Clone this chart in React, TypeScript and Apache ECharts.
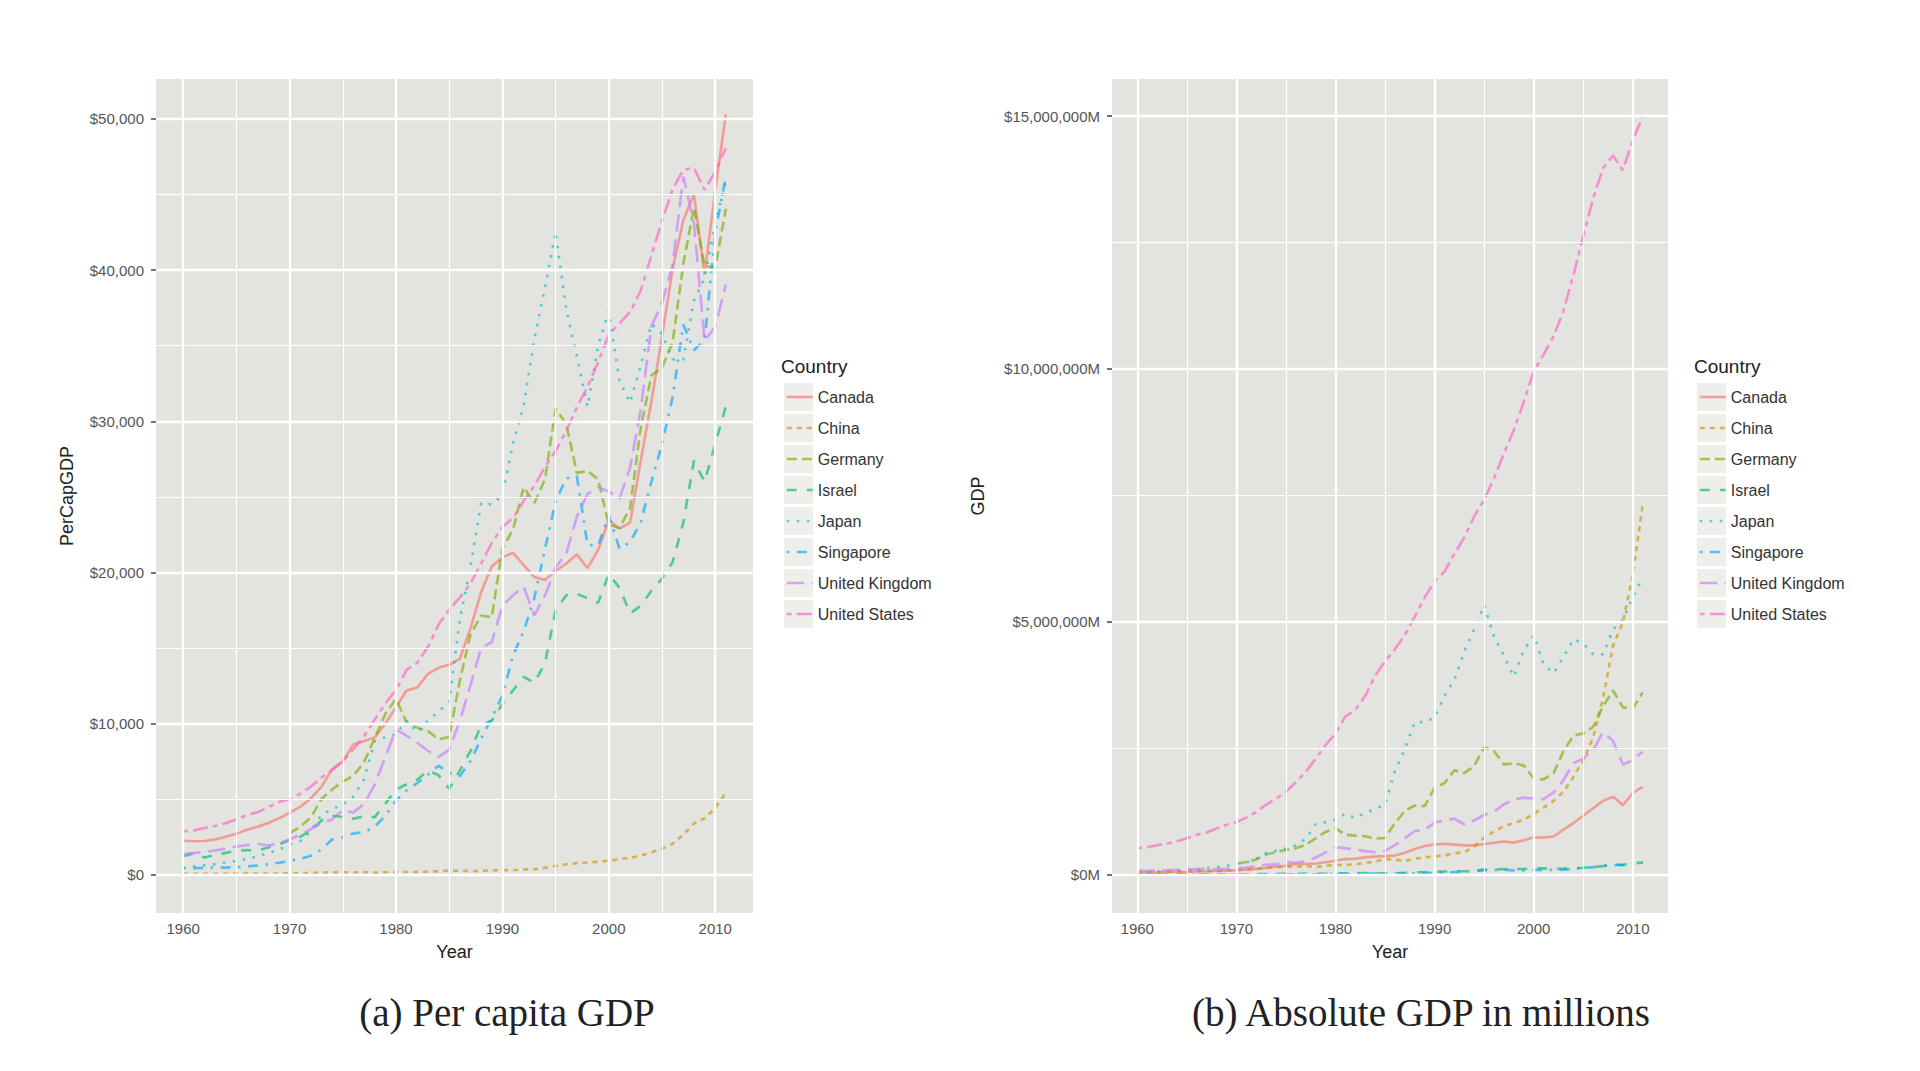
import { useEffect, useRef } from 'react'
import * as echarts from 'echarts'

const YEARS = Array.from({ length: 52 }, (_, i) => 1960 + i)

const COUNTRIES = ['Canada', 'China', 'Germany', 'Israel', 'Japan', 'Singapore', 'United Kingdom', 'United States']
const COLORS = ['#F8766D', '#CD9600', '#7CAE00', '#00BE67', '#00BFC4', '#00A9FF', '#C77CFF', '#FF61CC']
const DASHES: any[] = ['solid', [5, 5], [10, 5], [10, 10], [2.5, 7.5], [2.5, 7.5, 10, 7.5], [17.5, 7.5], [5, 5, 15, 5]]

// per capita GDP (US$), 1960 -> 2011
const PC_CANADA = [2260, 2230, 2250, 2350, 2520, 2720, 2990, 3190, 3440, 3740, 4100, 4500, 5070, 5830, 7000, 7500, 8650, 8850, 9100, 10000, 11100, 12200, 12400, 13300, 13700, 13900, 14300, 16300, 18700, 20400, 21000, 21300, 20500, 19700, 19500, 20100, 20600, 21200, 20300, 21500, 23500, 22900, 23300, 27400, 31300, 35600, 40100, 43300, 45000, 39700, 45300, 50300]
const PC_CHINA = [92, 76, 70, 74, 85, 98, 104, 97, 91, 100, 112, 118, 131, 157, 160, 178, 165, 185, 155, 183, 193, 197, 203, 225, 250, 294, 281, 251, 283, 310, 314, 330, 366, 377, 473, 610, 709, 782, 829, 873, 949, 1042, 1135, 1274, 1490, 1731, 2069, 2651, 3414, 3749, 4433, 5445]
const PC_GERMANY = [null, null, null, null, null, null, null, null, null, null, 2761, 3190, 3795, 5032, 5653, 6176, 6562, 7455, 9060, 10641, 11654, 10077, 9743, 9520, 8969, 9125, 12855, 15909, 17154, 17042, 21584, 22851, 25640, 24601, 26156, 30847, 29822, 26591, 26722, 26152, 23169, 22943, 24267, 29572, 33038, 33543, 35238, 40403, 44132, 40270, 40163, 44060]
const PC_ISRAEL = [1230, 1430, 1150, 1330, 1460, 1600, 1640, 1630, 1820, 2030, 2290, 2520, 2940, 3600, 3920, 3850, 3720, 3890, 3820, 4720, 5650, 6000, 6300, 6900, 6600, 5700, 6900, 8200, 9900, 10200, 11300, 12200, 13100, 12700, 14000, 17500, 18500, 18600, 18300, 18000, 19900, 19000, 17300, 17800, 18800, 19600, 20700, 23300, 27400, 26000, 28500, 31000]
const PC_JAPAN = [479, 564, 633, 718, 835, 919, 1058, 1228, 1450, 1669, 2004, 2234, 2917, 3974, 4354, 4659, 5198, 6335, 8822, 9104, 9308, 10212, 9429, 10214, 10787, 11466, 16882, 20355, 24592, 24505, 25124, 28541, 31013, 35451, 38815, 42522, 37423, 34304, 30970, 34999, 37292, 32716, 31236, 33691, 36442, 35781, 34102, 34095, 37972, 39473, 43118, 45903]
const PC_SINGAPORE = [428, 449, 472, 511, 485, 516, 566, 626, 708, 812, 925, 1071, 1264, 1685, 2341, 2490, 2746, 2846, 3194, 3901, 4929, 5596, 6078, 6633, 7228, 6750, 6542, 7539, 9004, 10395, 11862, 14505, 16136, 18302, 21553, 24702, 26233, 26376, 21824, 21796, 23793, 21577, 22017, 23320, 26000, 28500, 31600, 36400, 34700, 35400, 42500, 46200]
const PC_UK = [1381, 1452, 1525, 1613, 1748, 1874, 1979, 2059, 1951, 2100, 2347, 2649, 3030, 3426, 3666, 4299, 4138, 4681, 5977, 7804, 9630, 9208, 8748, 8215, 7808, 8292, 10175, 12545, 15016, 15402, 17805, 18493, 19063, 17171, 18475, 20322, 21264, 23694, 25198, 25647, 25362, 24874, 26926, 30785, 36267, 37813, 40366, 46195, 43146, 35332, 36238, 39038]
const PC_US = [2881, 2934, 3107, 3232, 3423, 3665, 3969, 4150, 4491, 4818, 5010, 5370, 5836, 6445, 6947, 7516, 8302, 9174, 10275, 11348, 12225, 13568, 14029, 15072, 16558, 17542, 18342, 19280, 20585, 21962, 23014, 23611, 24736, 25715, 27000, 28037, 29358, 30938, 32288, 33920, 35728, 36473, 37230, 38650, 40966, 43252, 45348, 46630, 46770, 45300, 46530, 48070]

// absolute GDP (US$ millions), 1960 -> 2011
const GDP_CANADA = [41093, 40768, 41978, 44657, 48883, 53910, 60417, 65268, 71464, 78699, 87896, 98520, 112584, 131321, 160409, 173834, 206575, 211612, 218633, 243072, 273854, 306215, 313507, 340548, 355373, 364756, 377438, 431318, 507354, 565056, 593930, 610328, 592388, 577171, 578139, 604031, 628546, 652823, 631813, 676082, 739451, 732708, 752531, 887752, 1018385, 1164177, 1310796, 1457873, 1542561, 1370838, 1614072, 1736869]
const GDP_CHINA = [59716, 50057, 47209, 50707, 59708, 70436, 76720, 72882, 70847, 79706, 91506, 98562, 112160, 136770, 142255, 161163, 151628, 172349, 148182, 176635, 189400, 194111, 203183, 228457, 257432, 306667, 297590, 270372, 309523, 343974, 356937, 379469, 422661, 440501, 559225, 728007, 856085, 952653, 1019459, 1083278, 1198475, 1324807, 1453827, 1640959, 1931644, 2256903, 2712951, 3494056, 4521827, 4990526, 5930502, 7318499]
const GDP_GERMANY = [null, null, null, null, null, null, null, null, null, null, 215838, 249985, 299802, 398374, 445303, 487981, 518963, 589920, 717097, 842841, 919612, 788000, 771000, 757000, 713000, 724000, 1019000, 1261000, 1366000, 1356000, 1714000, 1809000, 2062000, 2006000, 2148000, 2522000, 2440000, 2179000, 2202000, 2158000, 1900000, 1881000, 2007000, 2440000, 2745000, 2793000, 2919000, 3328000, 3640000, 3307000, 3286000, 3601000]
const GDP_ISRAEL = [2600, 3100, 2500, 3000, 3400, 4100, 4300, 4400, 5000, 5800, 6800, 7700, 9200, 11600, 13100, 13300, 13100, 14000, 14100, 17800, 21900, 23700, 25300, 28100, 27400, 24100, 29600, 35600, 43600, 45600, 52700, 59400, 66000, 65800, 74300, 97100, 105000, 108600, 109300, 110400, 125200, 122000, 113600, 119000, 128300, 135800, 146100, 167000, 200000, 193000, 217000, 241000]
const GDP_JAPAN = [44307, 53509, 60723, 69498, 81749, 90950, 105628, 123782, 146601, 172204, 209071, 236155, 312736, 424862, 471275, 512861, 576562, 709398, 996741, 1037453, 1086988, 1201466, 1116841, 1218107, 1294609, 1384533, 2051061, 2485237, 3015394, 3017052, 3103698, 3536800, 3852794, 4414963, 4850348, 5333926, 4706187, 4324278, 3914575, 4432599, 4731199, 4159860, 3980820, 4302939, 4655803, 4571867, 4356750, 4356347, 4849185, 5035142, 5495387, 5867154]
const GDP_SINGAPORE = [704, 765, 826, 917, 894, 975, 1096, 1237, 1425, 1659, 1920, 2265, 2730, 3690, 5221, 5633, 6325, 6660, 7616, 9512, 11897, 14175, 16085, 17783, 19768, 18558, 18466, 21074, 25736, 31189, 36144, 43004, 49153, 58141, 70764, 84291, 92541, 95851, 82433, 82716, 94305, 87997, 90603, 97002, 114188, 127418, 147798, 177599, 189413, 185245, 222699, 239700]
const GDP_UK = [72328, 76694, 80602, 85443, 93387, 100595, 107090, 111185, 104702, 112676, 124485, 140798, 161318, 192488, 206131, 241757, 232615, 263066, 335883, 438994, 542167, 518980, 493571, 464244, 443864, 472625, 581089, 717844, 862611, 886319, 1027650, 1070290, 1104000, 992957, 1070200, 1178360, 1242300, 1390250, 1487500, 1521400, 1504990, 1489030, 1624860, 1867800, 2203100, 2296800, 2462900, 2818300, 2644100, 2176000, 2261900, 2431300]
const GDP_US = [520531, 539052, 579750, 611672, 657625, 719125, 787797, 832555, 909989, 984630, 1038300, 1126800, 1237900, 1382300, 1499500, 1637700, 1824600, 2030100, 2293800, 2562200, 2788100, 3126800, 3253200, 3534600, 3930900, 4217500, 4460100, 4736400, 5100400, 5482100, 5800500, 5992100, 6342300, 6667400, 7085200, 7414700, 7838500, 8332400, 8793500, 9353500, 9951500, 10286200, 10642300, 11142200, 11853300, 12623000, 13377200, 13970000, 14220000, 13930000, 14526500, 14991300]

const PER_CAPITA = [PC_CANADA, PC_CHINA, PC_GERMANY, PC_ISRAEL, PC_JAPAN, PC_SINGAPORE, PC_UK, PC_US]
const ABSOLUTE = [GDP_CANADA, GDP_CHINA, GDP_GERMANY, GDP_ISRAEL, GDP_JAPAN, GDP_SINGAPORE, GDP_UK, GDP_US]

const X_MAJOR = [1960, 1970, 1980, 1990, 2000, 2010]
const X_MINOR = [1965, 1975, 1985, 1995, 2005]
const PC_MAJOR = [0, 10000, 20000, 30000, 40000, 50000]
const PC_MINOR = [5000, 15000, 25000, 35000, 45000]
const GDP_MAJOR = [0, 5000000, 10000000, 15000000]
const GDP_MINOR = [2500000, 7500000, 12500000]

const SANS = '"Liberation Sans", Arial, sans-serif'
const SERIF = '"Liberation Serif", "Times New Roman", serif'
const PANEL_BG = '#E3E3DF'
const KEY_BG = '#EEEEEB'
const LEGEND_TOP = 383
const KEY_STEP = 31
const LINE_W = 2.6

const money = (v: number) => '$' + v.toLocaleString('en-US')

function gridLines(idx: number, xMajor: number[], xMinor: number[], yMajor: number[], yMinor: number[]) {
  const item = (key: 'xAxis' | 'yAxis', v: number, w: number) => ({ [key]: v, lineStyle: { width: w } })
  return {
    type: 'line',
    xAxisIndex: idx,
    yAxisIndex: idx,
    data: [],
    silent: true,
    z: 1,
    markLine: {
      silent: true,
      symbol: ['none', 'none'],
      label: { show: false },
      emphasis: { disabled: true },
      lineStyle: { color: '#ffffff', type: 'solid' },
      data: [
        ...yMinor.map((v) => item('yAxis', v, 1.2)),
        ...xMinor.map((v) => item('xAxis', v, 1.2)),
        ...yMajor.map((v) => item('yAxis', v, 2.4)),
        ...xMajor.map((v) => item('xAxis', v, 2.4)),
      ],
    },
  }
}

function xAxisFor(idx: number) {
  return {
    type: 'value',
    gridIndex: idx,
    min: 1957.45,
    max: 2013.55,
    name: 'Year',
    nameLocation: 'middle',
    nameGap: 30,
    nameTextStyle: { fontFamily: SANS, fontSize: 18, color: '#222' },
    axisLine: { show: false },
    splitLine: { show: false },
    axisTick: { show: true, length: 5, customValues: X_MAJOR, lineStyle: { color: '#444', width: 1.5 } },
    axisLabel: { customValues: X_MAJOR, margin: 8, fontFamily: SANS, fontSize: 15, color: '#555', formatter: (v: number) => String(v) },
  }
}

function legendFor(left: number) {
  return {
    orient: 'vertical',
    left,
    top: LEGEND_TOP,
    padding: 0,
    itemWidth: 26,
    itemHeight: 28,
    itemGap: 3,
    selectedMode: false,
    data: COUNTRIES,
    // hide the round marker ECharts adds to line-series legend icons
    itemStyle: { color: 'rgba(0,0,0,0)', borderWidth: 0, opacity: 0 },
    lineStyle: { width: LINE_W },
    textStyle: { fontFamily: SANS, fontSize: 16, lineHeight: 28, color: '#333' },
  }
}

function keyBoxes(left: number) {
  return COUNTRIES.map((_, i) => ({
    type: 'rect',
    z: -1,
    shape: { x: left, y: LEGEND_TOP + i * KEY_STEP, width: 29, height: 28 },
    style: { fill: KEY_BG },
  }))
}

export default function App() {
  const ref = useRef<HTMLDivElement>(null)

  useEffect(() => {
    if (!ref.current) return
    const chart = echarts.init(ref.current, null, { renderer: 'svg' })

    const dataSeries = (idx: number, table: (number | null)[][]) =>
      COUNTRIES.map((name, i) => ({
        name,
        type: 'line',
        xAxisIndex: idx,
        yAxisIndex: idx,
        z: 3,
        symbol: 'none',
        showSymbol: false,
        silent: true,
        color: COLORS[i],
        lineStyle: { color: COLORS[i], width: LINE_W, type: DASHES[i], opacity: 0.66 },
        data: YEARS.map((y, k) => [y, table[i][k]]).filter((p) => p[1] !== null),
      }))

    chart.setOption({
      animation: false,
      backgroundColor: '#ffffff',
      title: [
        { text: 'Country', left: 781, top: 357, padding: 0, textStyle: { fontFamily: SANS, fontSize: 19, fontWeight: 'normal', color: '#222' } },
        { text: 'Country', left: 1694, top: 357, padding: 0, textStyle: { fontFamily: SANS, fontSize: 19, fontWeight: 'normal', color: '#222' } },
      ],
      legend: [legendFor(785.5), legendFor(1698.5)],
      grid: [
        { left: 156, top: 79, width: 597, height: 834, show: true, backgroundColor: PANEL_BG, borderWidth: 0 },
        { left: 1112, top: 79, width: 556, height: 834, show: true, backgroundColor: PANEL_BG, borderWidth: 0 },
      ],
      xAxis: [xAxisFor(0), xAxisFor(1)],
      yAxis: [
        {
          type: 'value',
          gridIndex: 0,
          min: -2515,
          max: 52640,
          name: 'PerCapGDP',
          nameLocation: 'middle',
          nameGap: 80,
          nameTextStyle: { fontFamily: SANS, fontSize: 18, color: '#222' },
          axisLine: { show: false },
          splitLine: { show: false },
          axisTick: { show: true, length: 5, customValues: PC_MAJOR, lineStyle: { color: '#444', width: 1.5 } },
          axisLabel: { customValues: PC_MAJOR, margin: 12, fontFamily: SANS, fontSize: 15, color: '#555', formatter: (v: number) => money(v) },
        },
        {
          type: 'value',
          gridIndex: 1,
          min: -760000,
          max: 15734000,
          name: 'GDP',
          nameLocation: 'middle',
          nameGap: 125,
          nameTextStyle: { fontFamily: SANS, fontSize: 18, color: '#222' },
          axisLine: { show: false },
          splitLine: { show: false },
          axisTick: { show: true, length: 5, customValues: GDP_MAJOR, lineStyle: { color: '#444', width: 1.5 } },
          axisLabel: { customValues: GDP_MAJOR, margin: 12, fontFamily: SANS, fontSize: 15, color: '#555', formatter: (v: number) => money(v) + 'M' },
        },
      ],
      graphic: [
        ...keyBoxes(784),
        ...keyBoxes(1697),
        {
          type: 'text',
          x: 507,
          y: 1012,
          style: { text: '(a) Per capita GDP', fontFamily: SERIF, fontSize: 39, fill: '#222', align: 'center', verticalAlign: 'middle' },
        },
        {
          type: 'text',
          x: 1421,
          y: 1012,
          style: { text: '(b) Absolute GDP in millions', fontFamily: SERIF, fontSize: 39, fill: '#222', align: 'center', verticalAlign: 'middle' },
        },
      ],
      series: [
        gridLines(0, X_MAJOR, X_MINOR, PC_MAJOR, PC_MINOR),
        gridLines(1, X_MAJOR, X_MINOR, GDP_MAJOR, GDP_MINOR),
        ...dataSeries(0, PER_CAPITA),
        ...dataSeries(1, ABSOLUTE),
      ],
    })

    const onResize = () => chart.resize()
    window.addEventListener('resize', onResize)
    return () => {
      window.removeEventListener('resize', onResize)
      chart.dispose()
    }
  }, [])

  return <div ref={ref} style={{ position: 'fixed', left: 0, top: 0, width: 1920, height: 1071 }} />
}
